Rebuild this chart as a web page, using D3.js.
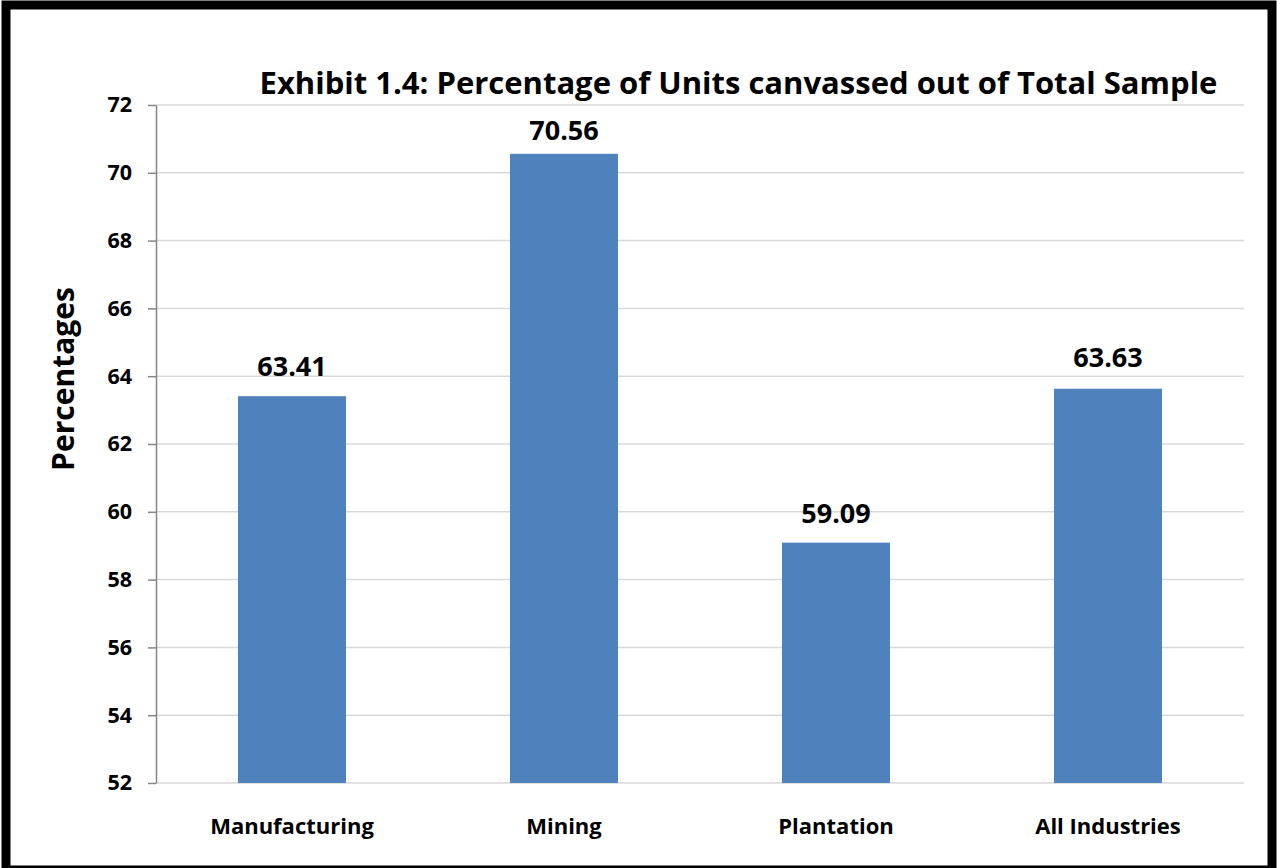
<!DOCTYPE html>
<html>
<head>
<meta charset="utf-8">
<script src="https://cdnjs.cloudflare.com/ajax/libs/d3/7.8.5/d3.min.js"></script>
<style>
  body { margin: 0; background: #fff; }
  text { font-family: 'Open Sans', sans-serif; font-weight: bold; fill: #000; }
  .grid line { stroke: #d9d9d9; stroke-width: 1.5; }
  .axis path, .axis line { stroke: #868686; stroke-width: 1.5; }
</style>
</head>
<body>
<div id="chart"></div>
<script>
let categories = ['Manufacturing', 'Mining', 'Plantation', 'All Industries']
let values = [63.41, 70.56, 59.09, 63.63]
let yTicks = [52, 54, 56, 58, 60, 62, 64, 66, 68, 70, 72]
let title = 'Exhibit 1.4: Percentage of Units canvassed out of Total Sample'
let yLabel = 'Percentages'

let W = 1277, H = 868
let margin = { left: 156, right: 33, top: 105, bottom: 85 }
// gap between bar top and its label baseline (labels were hand placed)
let labelGap = [20, 13.5, 20, 22]

let svg = d3.select('#chart')
.append('svg')
.attr('width', W)
.attr('height', H)

// outer frame
svg.append('rect')
.attr('x', 6)
.attr('y', 5)
.attr('width', W - 11)
.attr('height', H - 3)
.attr('fill', '#fff')
.attr('stroke', '#000')
.attr('stroke-width', 9)

let x = d3.scaleBand()
.domain(categories)
.range([margin.left, W - margin.right])
.paddingInner(0.603)
.paddingOuter(0.3015)

let y = d3.scaleLinear()
.domain([52, 72])
.range([H - margin.bottom, margin.top])

// gridlines
svg.append('g')
.attr('class', 'grid')
.selectAll('line')
.data(yTicks)
.join('line')
.attr('x1', margin.left)
.attr('x2', W - margin.right)
.attr('y1', d => y(d))
.attr('y2', d => y(d))

// y axis
let yAxis = svg.append('g')
.attr('class', 'axis')
.attr('transform', `translate(${margin.left},0)`)
.call(d3.axisLeft(y).tickValues(yTicks).tickSize(8).tickPadding(16).tickSizeOuter(0))

yAxis.selectAll('text')
.style('font-size', '21.5px')
.style('font-family', "'Open Sans', sans-serif")
.style('font-weight', 'bold')

// bars
svg.selectAll('.bar')
.data(values)
.join('rect')
.attr('class', 'bar')
.attr('x', (d, i) => x(categories[i]))
.attr('width', x.bandwidth())
.attr('y', d => y(d))
.attr('height', d => y(52) - y(d))
.attr('fill', '#4f81bd')

// value labels
svg.selectAll('.val')
.data(values)
.join('text')
.attr('class', 'val')
.attr('x', (d, i) => x(categories[i]) + x.bandwidth() / 2)
.attr('y', (d, i) => y(d) - labelGap[i])
.attr('text-anchor', 'middle')
.style('font-size', '27px')
.text(d => d.toFixed(2))

// category labels
svg.selectAll('.cat')
.data(categories)
.join('text')
.attr('class', 'cat')
.attr('x', d => x(d) + x.bandwidth() / 2)
.attr('y', 834)
.attr('text-anchor', 'middle')
.style('font-size', '22px')
.text(d => d)

// title
svg.append('text')
.attr('x', 738.5)
.attr('y', 94)
.attr('text-anchor', 'middle')
.style('font-size', '31px')
.text(title)

// y axis label
svg.append('text')
.attr('transform', 'translate(74, 379) rotate(-90)')
.attr('text-anchor', 'middle')
.style('font-size', '30px')
.text(yLabel)
</script>
</body>
</html>
